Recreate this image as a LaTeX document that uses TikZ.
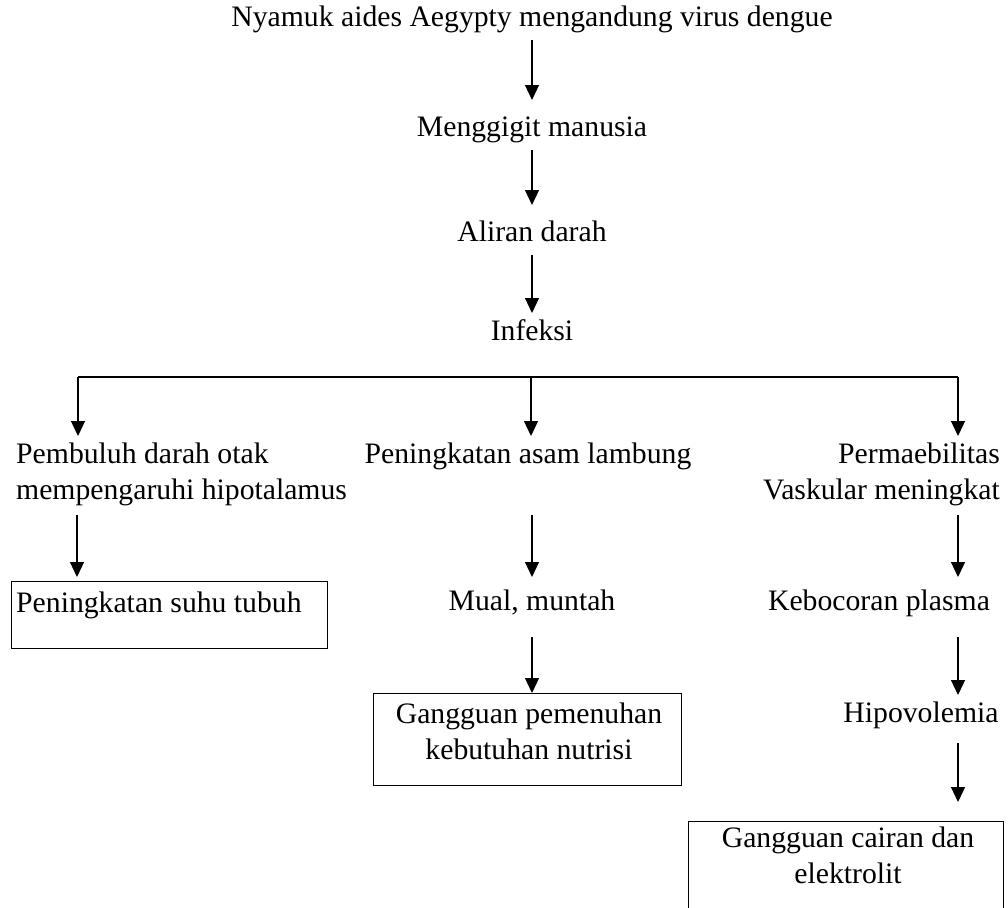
\documentclass[tikz,border=0pt]{standalone}
\usepackage{fontspec}
\setmainfont{Liberation Serif}
\usetikzlibrary{arrows.meta,calc}
\begin{document}
\begin{tikzpicture}[x=1pt,y=-1pt,
  txt/.style={inner sep=0pt, font=\fontsize{29.7}{35.5}\selectfont},
  arr/.style={line width=1.2pt, -{Triangle[length=15pt,width=14pt]}},
  ln/.style={line width=1.2pt},
  box/.style={draw, line width=1.2pt, inner sep=0pt}]
\useasboundingbox (0,0) rectangle (1008,907);
% main chain
\node[txt, anchor=base] (n1) at (532,27) {Nyamuk aides Aegypty mengandung virus dengue};
\node[txt, anchor=base] (n2) at (532,136) {Menggigit manusia};
\node[txt, anchor=base] (n3) at (532,241) {Aliran darah};
\node[txt, anchor=base] (n4) at (532,340) {Infeksi};
% branches
\node[txt, anchor=north west, align=left] (pl) at (16,443) {Pembuluh darah otak\\mempengaruhi hipotalamus};
\node[txt, anchor=base] (pm) at (528,463) {Peningkatan asam lambung};
\node[txt, anchor=north east, align=right] (pr) at (1000,443) {Permaebilitas\\Vaskular meningkat};
% left column
\node[box, minimum width=316pt, minimum height=67pt, anchor=north west] (b1) at (11,581) {};
\node[txt, anchor=base west] (t1) at (16,612) {Peningkatan suhu tubuh};
% middle column
\node[txt, anchor=base] (mm) at (532,610) {Mual, muntah};
\node[box, minimum width=308pt, minimum height=92pt, anchor=north west] (b2) at (373,693) {};
\node[txt, anchor=north, align=center] (t2) at (529,703) {Gangguan pemenuhan\\kebutuhan nutrisi};
% right column
\node[txt, anchor=base] (kp) at (879,610) {Kebocoran plasma};
\node[txt, anchor=base] (hv) at (921,722) {Hipovolemia};
\node[box, minimum width=315pt, minimum height=120pt, anchor=north west] (b3) at (688,821) {};
\node[txt, anchor=north, align=center] (t3) at (848,827) {Gangguan cairan dan\\elektrolit};
% connectors
\draw[arr] ($(n1.base)+(0,13)$) -- ($(n2.base)+(0,-36)$);
\draw[arr] ($(n2.base)+(0,14)$) -- ($(n3.base)+(0,-36)$);
\draw[arr] ($(n3.base)+(0,14)$) -- ($(n4.base)+(0,-27)$);
\coordinate (bl) at (78,377);
\coordinate (bm) at (531,377);
\coordinate (br) at (958,377);
\draw[ln] (bl) -- (br);
\draw[arr] (bl) -- ++(0,59);
\draw[arr] (bm) -- ++(0,59);
\draw[arr] (br) -- ++(0,59);
\draw[arr] ($(b1.north west)+(66,-66)$) -- ($(b1.north west)+(66,-4)$);
\draw[arr] ($(mm.base)+(0,-95)$) -- ($(mm.base)+(0,-33)$);
\draw[arr] ($(mm.base)+(0,27)$) -- (b2.north -| mm.base);
\draw[arr] ($(kp.base)+(79,-95)$) -- ($(kp.base)+(79,-33)$);
\draw[arr] ($(kp.base)+(79,27)$) -- ($(hv.base)+(37,-27)$);
\draw[arr] ($(hv.base)+(37,21)$) -- ($(hv.base)+(37,80)$);
\end{tikzpicture}
\end{document}
